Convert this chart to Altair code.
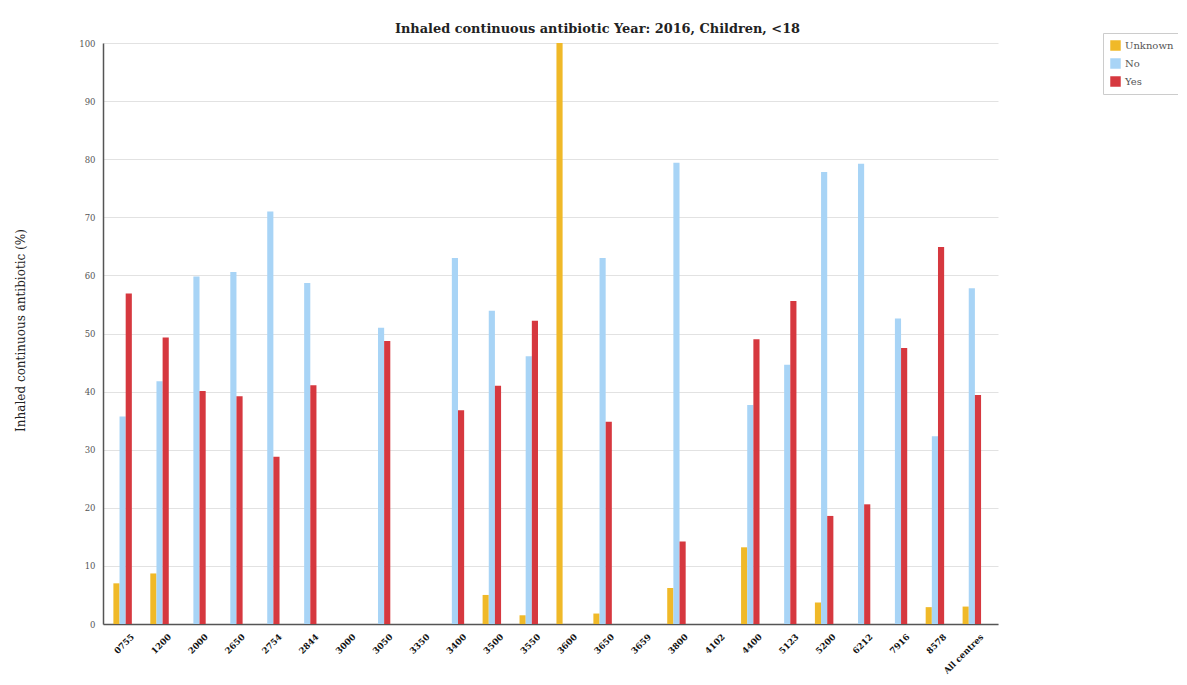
import altair as alt
import pandas as pd

centres = ["0755", "1200", "2000", "2650", "2754", "2844", "3000", "3050", "3350",
           "3400", "3500", "3550", "3600", "3650", "3659", "3800", "4102", "4400",
           "5123", "5200", "6212", "7916", "8578", "All centres"]
unknown = [7.0, 8.7, 0, 0, 0, 0, None, 0, None, 0, 5.0, 1.5, 100, 1.8, None, 6.2, None,
           13.2, 0, 3.7, 0, 0, 2.9, 3.0]
no_vals = [35.7, 41.8, 59.8, 60.6, 71.0, 58.7, None, 51.0, None, 63.0, 53.9, 46.1, 0, 63.0,
           None, 79.4, None, 37.7, 44.6, 77.8, 79.2, 52.6, 32.3, 57.8]
yes_vals = [56.9, 49.3, 40.1, 39.2, 28.8, 41.1, None, 48.7, None, 36.8, 41.0, 52.2, 0, 34.8,
            None, 14.2, None, 49.0, 55.6, 18.6, 20.6, 47.5, 64.9, 39.4]
series = ["Unknown", "No", "Yes"]
colors = ["#F0B928", "#A8D4F6", "#D6383F"]

rows = []
for i, c in enumerate(centres):
    for s, vals in zip(series, [unknown, no_vals, yes_vals]):
        v = vals[i]
        if v is not None:
            rows.append({"centre": c, "answer": s, "value": v})
df = pd.DataFrame(rows)

FONT = "DejaVu Serif"

chart = alt.Chart(df).mark_bar().encode(
    x=alt.X("centre:N",
            scale=alt.Scale(domain=centres, paddingInner=0.5, paddingOuter=0.37, align=0.38),
            axis=alt.Axis(title=None, labelAngle=-45, labelAlign="right", labelBaseline="middle",
                          labelOffset=10, labelPadding=11, ticks=False, labelFont=FONT,
                          labelFontSize=8.6, labelFontWeight="bold", labelColor="#111",
                          domainColor="#555", domainWidth=1.5, grid=False)),
    xOffset=alt.XOffset("answer:N", scale=alt.Scale(domain=series, paddingInner=0, paddingOuter=0)),
    y=alt.Y("value:Q",
            scale=alt.Scale(domain=[0, 100], nice=False),
            axis=alt.Axis(title="Inhaled continuous antibiotic (%)", values=list(range(0, 101, 10)),
                          ticks=False, labelFont=FONT, labelFontSize=8.5, labelColor="#555",
                          labelPadding=8, titleFont=FONT, titleFontSize=12,
                          titleFontWeight="normal", titleColor="#222", titleX=-83, titleY=287,
                          titleAngle=-90, titleAlign="center", titleBaseline="middle",
                          domainColor="#555", domainWidth=1.5, gridColor="#e2e2e2")),
    color=alt.Color("answer:N", scale=alt.Scale(domain=series, range=colors),
                    legend=alt.Legend(title=None, orient="none", legendX=1000, legendY=-10,
                                      symbolType="square", symbolSize=110, symbolStrokeWidth=0,
                                      labelFont=FONT, labelFontSize=10, labelColor="#555",
                                      rowPadding=7, padding=7, strokeColor="#cccccc",
                                      fillColor="white")),
).properties(
    width=895, height=581,
    title=alt.TitleParams("Inhaled continuous antibiotic Year: 2016, Children, <18",
                          font=FONT, fontSize=12.9, fontWeight="bold", color="#222",
                          anchor="middle", dx=47, offset=0, dy=3),
    autosize="none",
    padding={"left": 95, "top": 35, "right": 180, "bottom": 53},
).configure_view(stroke=None)

chart.save("out.html", embed_options={"renderer": "svg", "actions": False})
